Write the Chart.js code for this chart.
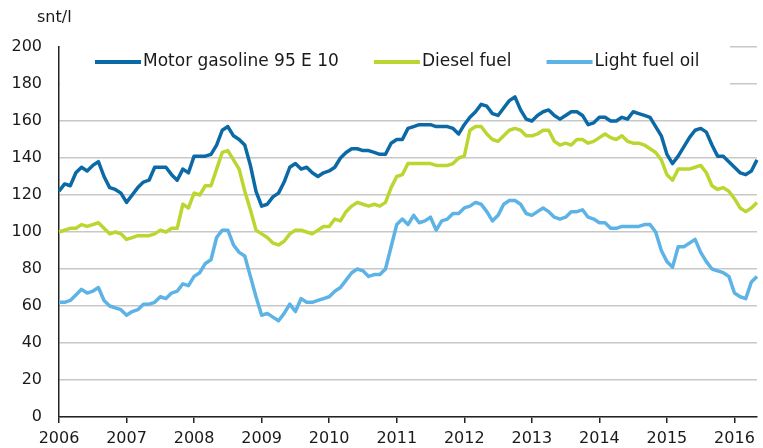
<!DOCTYPE html>
<html>
<head>
<meta charset="utf-8">
<script src="https://cdn.jsdelivr.net/npm/chart.js@4/dist/chart.umd.min.js"></script>
<style>
  body { margin: 0; background: #fff; }
  #wrap { width: 763px; height: 448px; position: relative; }
</style>
</head>
<body>
<div id="wrap"><canvas id="fuelChart"></canvas></div>
<script>
//monthly prices, Jan 2006 - May 2016
let firstYear = 2006;
let monthCount = 125;
let unitLabel = "snt/l";

let seriesNames = ["Motor gasoline 95 E 10", "Diesel fuel", "Light fuel oil"];

let gasoline = [
  122, 126, 125, 132, 135, 133, 136, 138, 130, 124, 123, 121,
  116, 120, 124, 127, 128, 135, 135, 135, 131, 128, 134, 132,
  141, 141, 141, 142, 147, 155, 157, 152, 150, 147, 136, 122,
  114, 115, 119, 121, 127, 135, 137, 134, 135, 132, 130, 132,
  133, 135, 140, 143, 145, 145, 144, 144, 143, 142, 142, 148,
  150, 150, 156, 157, 158, 158, 158, 157, 157, 157, 156, 153,
  158, 162, 165, 169, 168, 164, 163, 167, 171, 173, 166, 161,
  160, 163, 165, 166, 163, 161, 163, 165, 165, 163, 158, 159,
  162, 162, 160, 160, 162, 161, 165, 164, 163, 162, 157, 152,
  142, 137, 141, 146, 151, 155, 156, 154, 147, 141, 141, 138,
  135, 132, 131, 133, 139
];

let diesel = [
  100, 101, 102, 102, 104, 103, 104, 105, 102, 99, 100, 99,
  96, 97, 98, 98, 98, 99, 101, 100, 102, 102, 115, 113,
  121, 120, 125, 125, 134, 143, 144, 139, 134, 122, 112, 101,
  99, 97, 94, 93, 95, 99, 101, 101, 100, 99, 101, 103,
  103, 107, 106, 111, 114, 116, 115, 114, 115, 114, 116, 124,
  130, 131, 137, 137, 137, 137, 137, 136, 136, 136, 137, 140,
  141, 155, 157, 157, 153, 150, 149, 152, 155, 156, 155, 152,
  152, 153, 155, 155, 149, 147, 148, 147, 150, 150, 148, 149,
  151, 153, 151, 150, 152, 149, 148, 148, 147, 145, 143, 139,
  131, 128, 134, 134, 134, 135, 136, 132, 125, 123, 124, 122,
  118, 113, 111, 113, 116
];

let lightFuelOil = [
  62, 62, 63, 66, 69, 67, 68, 70, 63, 60, 59, 58,
  55, 57, 58, 61, 61, 62, 65, 64, 67, 68, 72, 71,
  76, 78, 83, 85, 97, 101, 101, 93, 89, 87, 76, 65,
  55, 56, 54, 52, 56, 61, 57, 64, 62, 62, 63, 64,
  65, 68, 70, 74, 78, 80, 79, 76, 77, 77, 80, 92,
  104, 107, 104, 109, 105, 106, 108, 101, 106, 107, 110, 110,
  113, 114, 116, 115, 111, 106, 109, 115, 117, 117, 115, 110,
  109, 111, 113, 111, 108, 107, 108, 111, 111, 112, 108, 107,
  105, 105, 102, 102, 103, 103, 103, 103, 104, 104, 100, 90,
  84, 81, 92, 92, 94, 96, 89, 84, 80, 79, 78, 76,
  67, 65, 64, 73, 76
];

let seriesColors = ["#0b6aa6", "#bcd631", "#5db3e6"];
let fontName = "'DejaVu Sans', sans-serif";
let textColor = "#1a1a1a";

//month labels like 2006-01
let labels = [];
for (let i = 0; i < monthCount; i++) {
  let y = firstYear + Math.floor(i / 12);
  let m = (i % 12) + 1;
  labels.push(y + "-" + (m < 10 ? "0" + m : m));
}

//legend sits inside the plot on a white box, like the original
const insideLegend = {
  id: "insideLegend",
  afterDraw(chart) {
    let ctx = chart.ctx;
    let area = chart.chartArea;
    let yScale = chart.scales.y;
    ctx.save();

    //unit label above the axis
    ctx.fillStyle = textColor;
    ctx.font = "16px " + fontName;
    ctx.textBaseline = "middle";
    ctx.textAlign = "left";
    ctx.fillText(unitLabel, 37, 18);

    //white box over the top grid lines
    ctx.fillStyle = "#fff";
    ctx.fillRect(area.left + 1, area.top - 2, 730 - area.left - 1, yScale.getPixelForValue(180) + 3 - (area.top - 2));

    ctx.font = "17px " + fontName;
    let x = area.left + 36;
    let y = 62;
    chart.data.datasets.forEach((ds) => {
      ctx.strokeStyle = ds.borderColor;
      ctx.lineWidth = 4;
      ctx.beginPath();
      ctx.moveTo(x, y);
      ctx.lineTo(x + 46, y);
      ctx.stroke();
      ctx.fillStyle = textColor;
      ctx.fillText(ds.label, x + 48, y);
      x += 48 + ctx.measureText(ds.label).width + 35;
    });
    ctx.restore();
  },
};

const ctx = document.getElementById("fuelChart").getContext("2d");
const fuelChart = new Chart(ctx, {
  type: "line",
  data: {
    labels: labels,
    datasets: [
      { label: seriesNames[0], data: gasoline, borderColor: seriesColors[0] },
      { label: seriesNames[1], data: diesel, borderColor: seriesColors[1] },
      { label: seriesNames[2], data: lightFuelOil, borderColor: seriesColors[2] },
    ],
  },
  options: {
    responsive: true,
    maintainAspectRatio: false,
    animation: false,
    layout: { padding: { top: 47, right: 0, bottom: 0, left: 0 } },
    elements: {
      point: { radius: 0 },
      line: { borderWidth: 3.5, tension: 0, borderJoinStyle: "round", fill: false },
    },
    plugins: {
      legend: { display: false },
      tooltip: { enabled: false },
    },
    scales: {
      x: {
        offset: false,
        grid: {
          drawOnChartArea: false,
          drawTicks: true,
          tickLength: 6,
          lineWidth: 1.5,
          color: (c) => (c.index % 12 === 0 ? "#222" : "rgba(0,0,0,0)"),
        },
        border: { color: "#222", width: 1.5 },
        ticks: {
          autoSkip: false,
          maxRotation: 0,
          minRotation: 0,
          padding: 6,
          color: textColor,
          font: { family: fontName, size: 16 },
          callback: function (value, index) {
            let lab = this.getLabelForValue(value);
            return lab.endsWith("-01") ? lab.substring(0, 4) : "";
          },
        },
        afterFit: (scale) => {
          scale.height = 31;
        },
      },
      y: {
        min: 0,
        max: 200,
        grid: { drawTicks: false, color: "#c8c8c8", lineWidth: 1.5 },
        border: { color: "#222", width: 1.5 },
        ticks: {
          stepSize: 20,
          padding: 17,
          color: textColor,
          font: { family: fontName, size: 16 },
        },
        afterFit: (scale) => {
          scale.width = 59;
        },
      },
    },
  },
  plugins: [insideLegend],
});
</script>
</body>
</html>
